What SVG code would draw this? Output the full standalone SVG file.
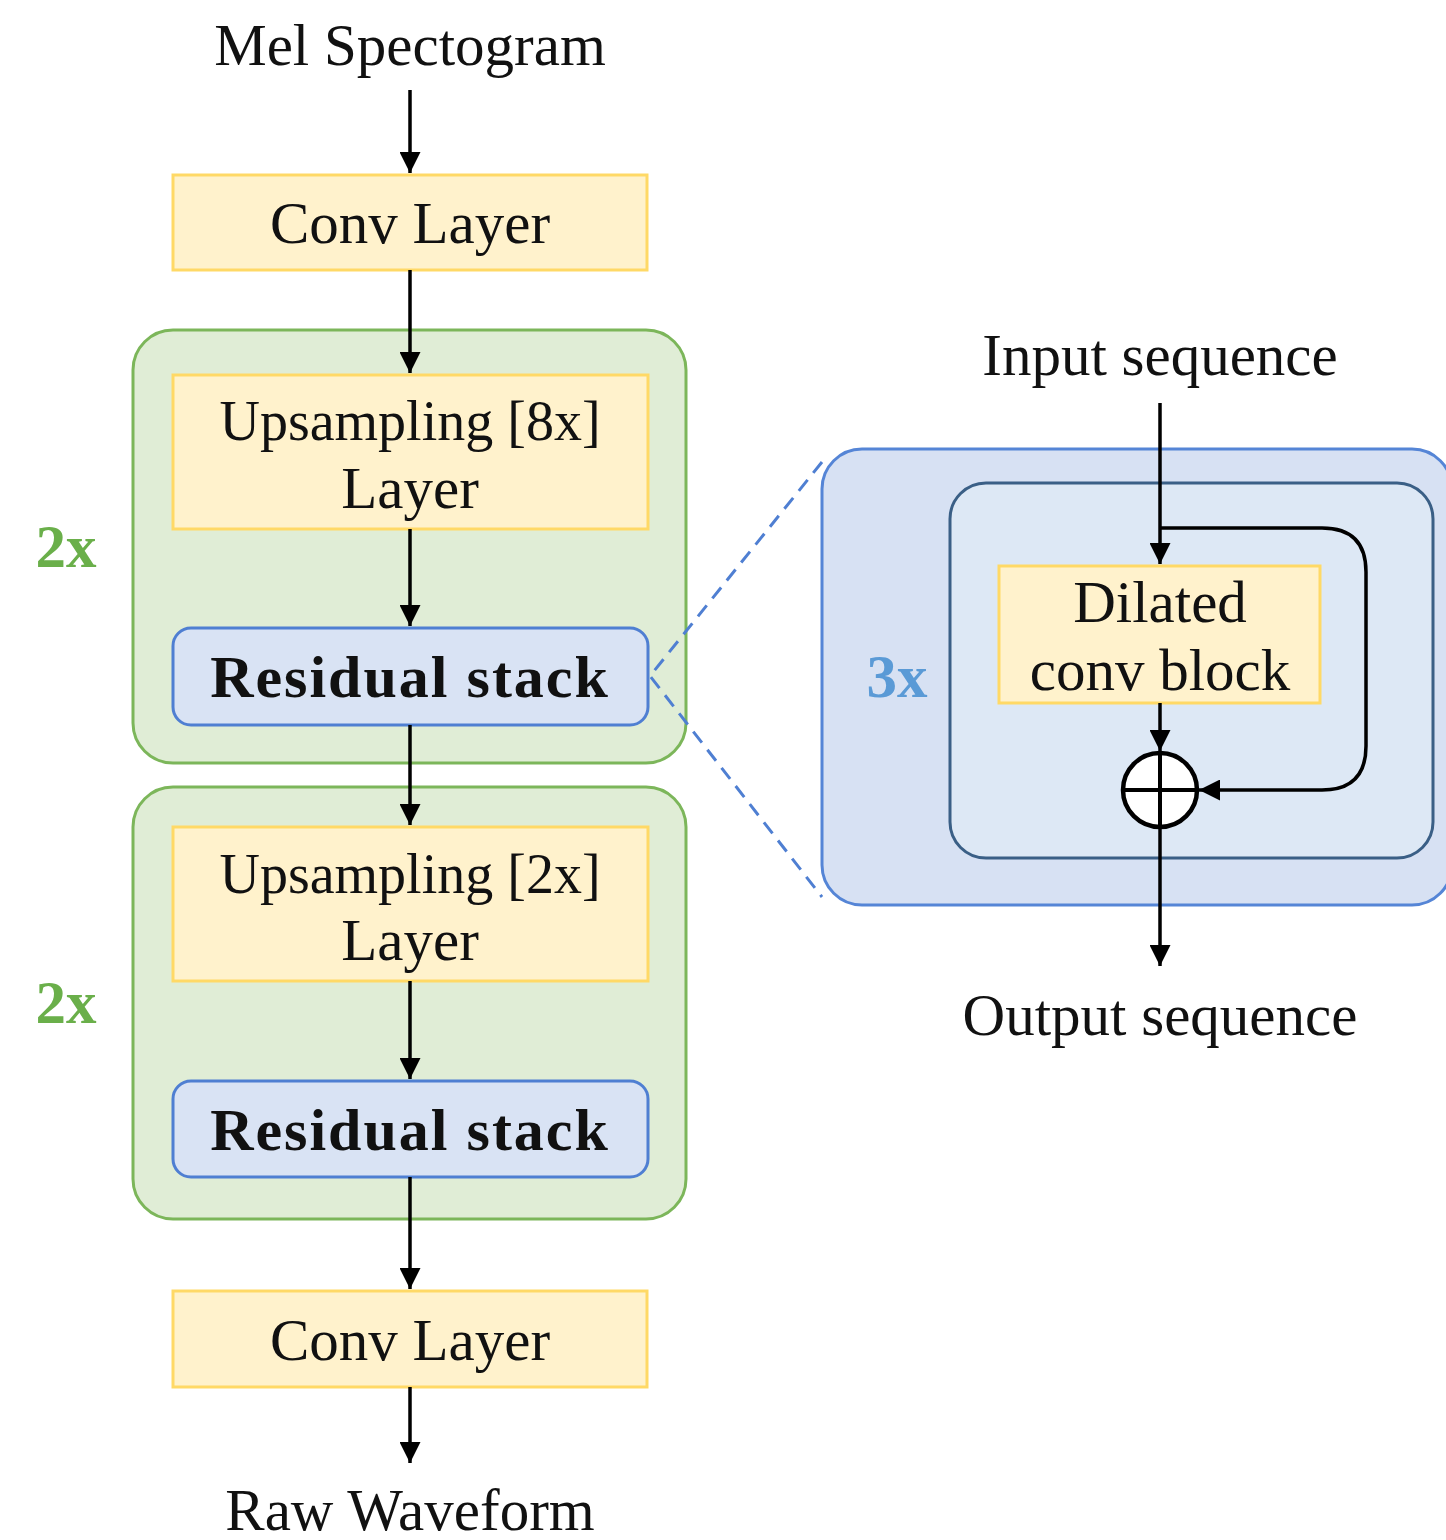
<svg xmlns="http://www.w3.org/2000/svg" width="1446" height="1540" viewBox="0 0 1446 1540">
  <style>
    .t { font-family: "Liberation Serif", "Times New Roman", serif; font-size: 59px; fill: #111; text-anchor: middle; }
    .s { font-size: 56px; }
    .b { font-weight: bold; font-size: 60px; letter-spacing: 2px; }
    .rep { font-family: "Liberation Serif", serif; font-weight: bold; font-size: 61px; text-anchor: middle; }
    .layer { fill: #fff2cc; stroke: #ffd966; stroke-width: 3; }
    .stack { fill: #d9e3f4; stroke: #4f7fd2; stroke-width: 3; }
    .group { fill: #e0edd6; stroke: #7cb65a; stroke-width: 3; }
    .edge { stroke: #000; stroke-width: 3.5; fill: none; }
  </style>
  <defs>
    <marker id="arr" viewBox="0 0 10 10" refX="10" refY="5" markerWidth="6" markerHeight="6" markerUnits="strokeWidth" orient="auto">
      <path d="M0,0 L10,5 L0,10 z" fill="#000"/>
    </marker>
  </defs>

  <rect width="1446" height="1540" fill="#fff"/>

  <!-- repeat groups -->
  <g id="group-upper">
    <rect class="group" x="133" y="330" width="553" height="433" rx="40"/>
    <text class="rep" x="66" y="567" fill="#6aaf4a">2x</text>
  </g>
  <g id="group-lower">
    <rect class="group" x="133" y="787" width="553" height="432" rx="40"/>
    <text class="rep" x="66" y="1023" fill="#6aaf4a">2x</text>
  </g>

  <!-- residual stack detail -->
  <g id="detail-outer">
    <rect x="822" y="449" width="630" height="456" rx="40" fill="#d7e1f3" stroke="#5585d6" stroke-width="3"/>
    <text class="rep" x="897" y="697" fill="#5a9ad6">3x</text>
  </g>
  <g id="detail-inner">
    <rect x="950" y="483" width="483" height="375" rx="36" fill="#dde8f5" stroke="#3a5f86" stroke-width="3"/>
  </g>

  <!-- labels -->
  <g id="in-label"><text class="t" x="410" y="65">Mel Spectogram</text></g>
  <g id="out-label"><text class="t" x="410" y="1530">Raw Waveform</text></g>
  <g id="seq-in"><text class="t" x="1160" y="375">Input sequence</text></g>
  <g id="seq-out"><text class="t" x="1160" y="1035">Output sequence</text></g>

  <!-- layers -->
  <g id="conv-in">
    <rect class="layer" x="173" y="175" width="474" height="95"/>
    <text class="t" x="410" y="243">Conv Layer</text>
  </g>
  <g id="up8">
    <rect class="layer" x="173" y="375" width="475" height="154"/>
    <text class="t s" x="410" y="440">Upsampling [8x]</text>
    <text class="t" x="410" y="508">Layer</text>
  </g>
  <g id="res1">
    <rect class="stack" x="173" y="628" width="475" height="97" rx="18"/>
    <text class="t b" x="410" y="697">Residual stack</text>
  </g>
  <g id="up2">
    <rect class="layer" x="173" y="827" width="475" height="154"/>
    <text class="t s" x="410" y="893">Upsampling [2x]</text>
    <text class="t" x="410" y="960">Layer</text>
  </g>
  <g id="res2">
    <rect class="stack" x="173" y="1081" width="475" height="96" rx="18"/>
    <text class="t b" x="410" y="1150">Residual stack</text>
  </g>
  <g id="conv-out">
    <rect class="layer" x="173" y="1291" width="474" height="96"/>
    <text class="t" x="410" y="1360">Conv Layer</text>
  </g>
  <g id="dilated">
    <rect class="layer" x="999" y="566" width="321" height="137"/>
    <text class="t" x="1160" y="622">Dilated</text>
    <text class="t" x="1160" y="690">conv block</text>
  </g>
  <g id="sum">
    <circle cx="1160" cy="790" r="37" fill="#fff" stroke="#000" stroke-width="4.5"/>
    <path d="M1123,790 H1197 M1160,753 V827" stroke="#000" stroke-width="4"/>
  </g>

  <!-- connectors -->
  <g id="edges">
    <path class="edge" marker-end="url(#arr)" d="M410,90 V173"/>
    <path class="edge" marker-end="url(#arr)" d="M410,270 V373"/>
    <path class="edge" marker-end="url(#arr)" d="M410,529 V626"/>
    <path class="edge" marker-end="url(#arr)" d="M410,725 V825"/>
    <path class="edge" marker-end="url(#arr)" d="M410,981 V1079"/>
    <path class="edge" marker-end="url(#arr)" d="M410,1177 V1289"/>
    <path class="edge" marker-end="url(#arr)" d="M410,1387 V1463"/>
    <path class="edge" marker-end="url(#arr)" d="M1160,403 V564"/>
    <path class="edge" marker-end="url(#arr)" d="M1160,528 H1322 Q1366,528 1366,572 V746 Q1366,790 1322,790 H1199"/>
    <path class="edge" marker-end="url(#arr)" d="M1160,703 V751"/>
    <path class="edge" marker-end="url(#arr)" d="M1160,827 V966"/>
    <path d="M822,462 L650,676 L822,897" fill="none" stroke="#4f7fd2" stroke-width="3" stroke-dasharray="14,9"/>
  </g>
</svg>
